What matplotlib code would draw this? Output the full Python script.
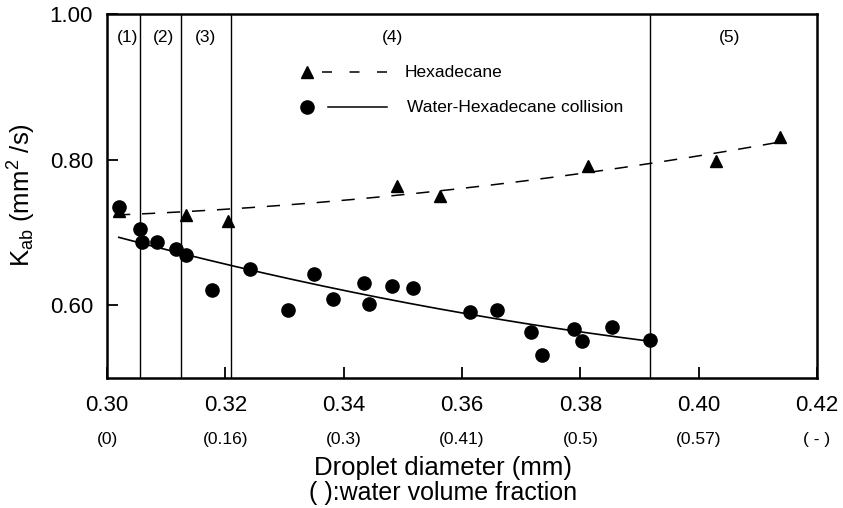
import numpy as np
import matplotlib
matplotlib.use("Agg")
import matplotlib.pyplot as plt
import matplotlib.transforms as mtransforms

plt.rcParams['font.family'] = ['Liberation Sans', 'DejaVu Sans']
plt.rcParams['mathtext.fontset'] = 'custom'
plt.rcParams['mathtext.rm'] = 'Liberation Sans'
plt.rcParams['mathtext.it'] = 'Liberation Sans:italic'
plt.rcParams['lines.scale_dashes'] = False

# ---- data ----
hex_d = [0.3021, 0.3133, 0.3204, 0.3490, 0.3563, 0.3813, 0.4029, 0.4137]
hex_k = [0.729, 0.7245, 0.7163, 0.7634, 0.7496, 0.7908, 0.7977, 0.8312]

wh_d = [0.3020, 0.3056, 0.3059, 0.3085, 0.3117, 0.3134, 0.3177, 0.3242,
        0.3306, 0.3350, 0.3382, 0.3434, 0.3443, 0.3481, 0.3517,
        0.3614, 0.3659, 0.3717, 0.3736, 0.3790, 0.3802, 0.3853, 0.3918]
wh_k = [0.7345, 0.7049, 0.6870, 0.6870, 0.6774, 0.6696, 0.6216, 0.6504,
        0.5931, 0.6431, 0.6092, 0.6302, 0.6019, 0.6261, 0.6239,
        0.5904, 0.5931, 0.5635, 0.5314, 0.5676, 0.5502, 0.5708, 0.5520]

# fitted curves (smoothed with a quadratic)
hex_curve_d = [0.3017, 0.3209, 0.3483, 0.3917, 0.4150]
hex_curve_k = [0.7272, 0.7282, 0.7496, 0.8000, 0.8233]
wh_curve_d = [0.3020, 0.3211, 0.3597, 0.3789, 0.3909]
wh_curve_k = [0.6939, 0.6536, 0.5895, 0.5667, 0.5502]

region_bounds = [0.3056, 0.3125, 0.3209, 0.3917]
region_labels = ['(1)', '(2)', '(3)', '(4)', '(5)']
region_label_x = [0.3035, 0.3096, 0.3167, 0.3483, 0.4053]

xticks = [0.30, 0.32, 0.34, 0.36, 0.38, 0.40, 0.42]
xtick_labels = ['0.30', '0.32', '0.34', '0.36', '0.38', '0.40', '0.42']
water_frac_labels = ['(0)', '(0.16)', '(0.3)', '(0.41)', '(0.5)', '(0.57)', '( - )']
yticks = [0.60, 0.80, 1.00]
ytick_labels = ['0.60', '0.80', '1.00']

series_names = ['Hexadecane', 'Water-Hexadecane collision']

# ---- figure ----
fig = plt.figure(figsize=(8.43, 5.08), dpi=100)
ax = fig.add_axes([107/843, 1-378/508, 710/843, 363.7/508])
ax.set_xlim(0.30, 0.42)
ax.set_ylim(0.50, 1.00)

for b in region_bounds:
    ax.axvline(b, color='black', lw=1.0, zorder=1)
for lab, x in zip(region_labels, region_label_x):
    ax.text(x, 0.935, lab, ha='center', va='center', fontsize=12.5,
            transform=mtransforms.blended_transform_factory(ax.transData, ax.transAxes))

HEX_DASH = (0, (9.5, 8.5))
LEG_DASH = (0, (7.2, 12.6))

c1 = np.polyfit(hex_curve_d, hex_curve_k, 2)
xs1 = np.linspace(hex_curve_d[0], hex_curve_d[-1], 200)
ax.plot(xs1, np.polyval(c1, xs1), color='black', lw=1.1, ls=HEX_DASH, zorder=2)
c2 = np.polyfit(wh_curve_d, wh_curve_k, 2)
xs2 = np.linspace(wh_curve_d[0], wh_curve_d[-1], 200)
ax.plot(xs2, np.polyval(c2, xs2), color='black', lw=1.2, ls='-', zorder=2)

ax.plot(hex_d, hex_k, linestyle='none', marker='^', ms=9, color='black', zorder=3)
ax.plot(wh_d, wh_k, linestyle='none', marker='o', ms=9.5, color='black', zorder=4)

# legend (marker, line sample, label) drawn in axes fractions
T = ax.transAxes
ax.plot([0.2817], [0.8405], marker='^', ms=9, color='black', ls='none', transform=T, clip_on=False)
ax.plot([0.3028, 0.3944], [0.8405, 0.8405], color='black', lw=1.1, ls=LEG_DASH, transform=T)
ax.text(0.4197, 0.8413, series_names[0], transform=T, ha='left', va='center', fontsize=12.5)
ax.plot([0.2817], [0.7451], marker='o', ms=9.5, color='black', ls='none', transform=T, clip_on=False)
ax.plot([0.3113, 0.3944], [0.7451, 0.7451], color='black', lw=1.1, ls='-', transform=T)
ax.text(0.4225, 0.7451, series_names[1], transform=T, ha='left', va='center', fontsize=12.5)

# ticks
ax.set_xticks(xticks)
ax.set_xticklabels(xtick_labels, fontsize=16)
ax.set_yticks(yticks)
ax.set_yticklabels(ytick_labels, fontsize=16)
ax.tick_params(direction='in', length=8, width=1.3, top=False, right=False)
ax.tick_params(axis='x', pad=12)
ax.tick_params(axis='y', pad=10)
for s in ax.spines.values():
    s.set_linewidth(1.8)

trans = mtransforms.blended_transform_factory(ax.transData, ax.transAxes)
for x, lab in zip(xticks, water_frac_labels):
    ax.text(x, -0.17, lab, transform=trans, ha='center', va='center', fontsize=12.5)

ax.text(0.4735, -0.247, 'Droplet diameter (mm)', transform=ax.transAxes,
        ha='center', va='center', fontsize=18.5)
ax.text(0.4735, -0.316, '( ):water volume fraction', transform=ax.transAxes,
        ha='center', va='center', fontsize=18)

fig.text(22/843, 1-195/508, r'K$_{\mathrm{ab}}$ (mm$^{2}$ /s)', rotation=90,
         ha='center', va='center', fontsize=18.5)

fig.savefig('out.png', dpi=100)
